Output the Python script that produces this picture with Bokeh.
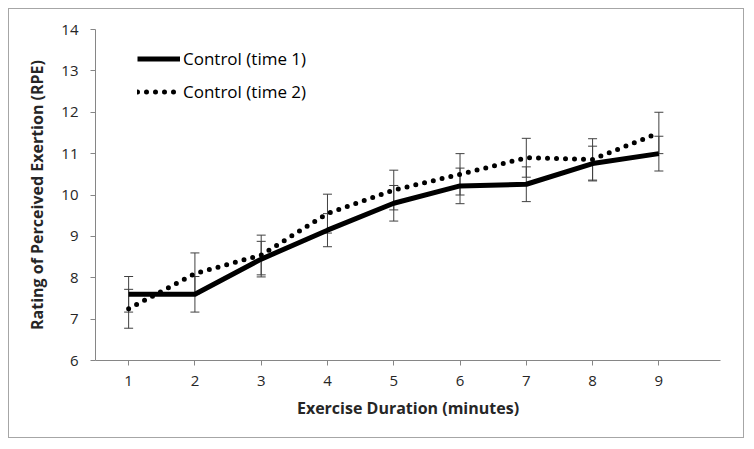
from bokeh.plotting import figure
from bokeh.models import (Range1d, Whisker, ColumnDataSource, Legend, LegendItem,
                          Title, TeeHead, FixedTicker)
from bokeh.embed import file_html
from bokeh.resources import INLINE

# ---- data ----
minutes = [1, 2, 3, 4, 5, 6, 7, 8, 9]
rpe_time1 = [7.6, 7.6, 8.45, 9.15, 9.8, 10.22, 10.26, 10.76, 11.0]
err_time1 = [0.43, 0.43, 0.43, 0.40, 0.43, 0.43, 0.42, 0.42, 0.42]
rpe_time2 = [7.25, 8.1, 8.55, 9.55, 10.12, 10.5, 10.9, 10.86, 11.5]
err_time2 = [0.47, 0.5, 0.48, 0.47, 0.48, 0.5, 0.47, 0.5, 0.5]
y_ticks = [6, 7, 8, 9, 10, 11, 12, 13, 14]
series_names = ["Control (time 1)", "Control (time 2)"]
x_title = "Exercise Duration (minutes)"
y_title = "Rating of Perceived Exertion (RPE)"

FONT = "Open Sans"
AXIS_COLOR = "#868686"
TEXT_COLOR = "#262626"

p = figure(width=736, height=430, output_backend="svg", toolbar_location=None,
           x_range=Range1d(0.5, 9.93), y_range=Range1d(6, 14),
           min_border_left=86, min_border_right=25, min_border_top=20,
           min_border_bottom=79)
p.styles = {"border": "1px solid #a6a6a6", "margin-left": "8px",
            "margin-top": "8px"}
p.outline_line_color = None
p.grid.grid_line_color = None

# axes
for ax in (p.xaxis[0], p.yaxis[0]):
    ax.axis_line_color = AXIS_COLOR
    ax.major_tick_line_color = AXIS_COLOR
    ax.minor_tick_line_color = None
    ax.major_tick_in = 0
    ax.major_tick_out = 5
    ax.major_label_text_font = FONT
    ax.major_label_text_font_size = "15px"
    ax.major_label_text_color = TEXT_COLOR
p.xaxis.ticker = FixedTicker(ticks=minutes)
p.yaxis.ticker = FixedTicker(ticks=y_ticks)
p.xaxis.major_label_standoff = 10
p.yaxis.major_label_standoff = 12

# error bars
src1 = ColumnDataSource(dict(x=minutes, y=rpe_time1,
                             lo=[v - e for v, e in zip(rpe_time1, err_time1)],
                             hi=[v + e for v, e in zip(rpe_time1, err_time1)]))
src2 = ColumnDataSource(dict(x=minutes, y=rpe_time2,
                             lo=[v - e for v, e in zip(rpe_time2, err_time2)],
                             hi=[v + e for v, e in zip(rpe_time2, err_time2)]))
for src in (src1, src2):
    w = Whisker(base="x", lower="lo", upper="hi", source=src,
                line_color="#404040", line_width=1,
                upper_head=TeeHead(size=9, line_color="#404040", line_width=1),
                lower_head=TeeHead(size=9, line_color="#404040", line_width=1))
    p.add_layout(w)

r1 = p.line("x", "y", source=src1, line_color="black", line_width=5,
            line_join="round")
r2 = p.line("x", "y", source=src2, line_color="black", line_width=5,
            line_dash="0 9", line_cap="round")

legend = Legend(items=[LegendItem(label=series_names[0], renderers=[r1]),
                       LegendItem(label=series_names[1], renderers=[r2])],
                location=(42, 252), glyph_width=43, glyph_height=33,
                label_height=33, spacing=0, padding=0, margin=0,
                border_line_color=None, background_fill_alpha=0,
                label_text_font=FONT, label_text_font_size="17px",
                label_text_color="black", label_standoff=3)
p.add_layout(legend)

# axis titles
p.add_layout(Title(text=x_title, align="center", offset=-15, standoff=13,
                   text_font=FONT, text_font_size="16px", text_font_style="bold",
                   text_color=TEXT_COLOR), "below")
p.add_layout(Title(text=y_title, align="center", offset=-22, standoff=21,
                   text_font=FONT, text_font_size="16px", text_font_style="bold",
                   text_color=TEXT_COLOR), "left")

open("out.html", "w").write(file_html(p, INLINE))
